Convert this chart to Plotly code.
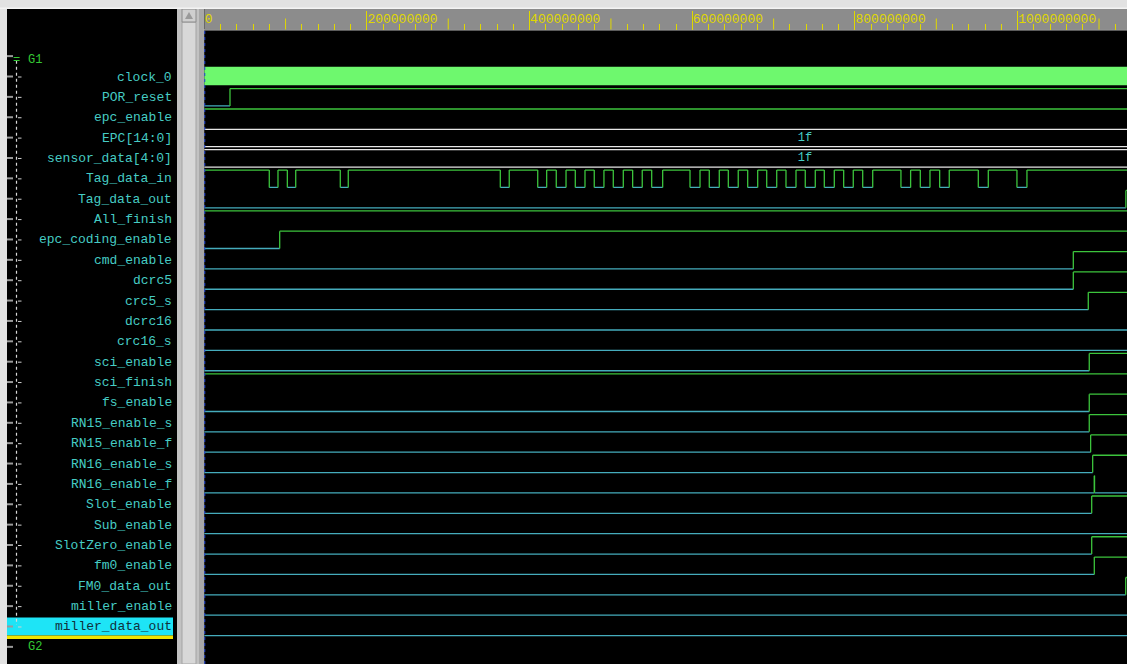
import plotly.graph_objects as go

# ---------------- data ----------------
signal_names = [
    "clock_0", "POR_reset", "epc_enable", "EPC[14:0]", "sensor_data[4:0]",
    "Tag_data_in", "Tag_data_out", "All_finish", "epc_coding_enable",
    "cmd_enable", "dcrc5", "crc5_s", "dcrc16", "crc16_s", "sci_enable",
    "sci_finish", "fs_enable", "RN15_enable_s", "RN15_enable_f",
    "RN16_enable_s", "RN16_enable_f", "Slot_enable", "Sub_enable",
    "SlotZero_enable", "fm0_enable", "FM0_data_out", "miller_enable",
    "miller_data_out",
]
signal_kind = ["clock", "bit", "bit", "bus", "bus"] + ["bit"] * 23
# initial logic level of single-bit signals (None for clock / bus rows)
initial_level = [None, 0, 1, None, None, 1, 0, 1, 0, 0, 0, 0, 0, 0, 0,
                 1, 0, 0, 0, 0, 0, 0, 0, 0, 0, 0, 0, 0]

bus_values = {"EPC[14:0]": "1f", "sensor_data[4:0]": "1f"}
bus_end = 1477e6

tag_data_in_fall = [80.0e6, 102.2e6, 167.3e6, 364.0e6, 410.0e6, 432.8e6, 456.2e6,
                    479.5e6, 502.9e6, 526.7e6, 550.1e6, 597.2e6, 620.9e6, 644.3e6,
                    668.1e6, 691.5e6, 715.2e6, 738.9e6, 762.3e6, 786.1e6, 809.5e6,
                    856.5e6, 880.3e6, 904.1e6, 951.6e6, 999.1e6]
tag_data_in_rise = [90.7e6, 112.5e6, 177.1e6, 375.0e6, 421.0e6, 444.8e6, 468.1e6,
                    491.4e6, 515.2e6, 538.5e6, 563.6e6, 609.5e6, 633.2e6, 656.5e6,
                    680.4e6, 703.8e6, 727.5e6, 751.2e6, 774.6e6, 797.9e6, 821.8e6,
                    868.4e6, 892.2e6, 915.9e6, 963.9e6, 1011.4e6]
por_reset_toggles = [31.7e6]
tag_data_out_toggles = [1133.0e6]
epc_coding_enable_toggles = [92.8e6]
cmd_enable_toggles = [1068.4e6]
dcrc5_toggles = [1068.4e6]
crc5_s_toggles = [1086.8e6]
sci_enable_toggles = [1088.0e6]
fs_enable_toggles = [1088.0e6]
rn15_enable_s_toggles = [1088.0e6]
rn15_enable_f_toggles = [1089.7e6]
rn16_enable_s_toggles = [1092.2e6]
rn16_enable_f_toggles = [1094.2e6, 1094.5e6]
slot_enable_toggles = [1091.0e6]
slotzero_enable_toggles = [1091.0e6]
fm0_enable_toggles = [1094.2e6]
fm0_data_out_toggles = [1132.8e6]

ruler_major = [0, 200000000, 400000000, 600000000, 800000000, 1000000000]
ruler_labels = ["0", "200000000", "400000000", "600000000", "800000000", "1000000000"]

signal_toggles = {
    "POR_reset": por_reset_toggles,
    "Tag_data_in": sorted(tag_data_in_fall + tag_data_in_rise),
    "Tag_data_out": tag_data_out_toggles,
    "epc_coding_enable": epc_coding_enable_toggles,
    "cmd_enable": cmd_enable_toggles,
    "dcrc5": dcrc5_toggles,
    "crc5_s": crc5_s_toggles,
    "sci_enable": sci_enable_toggles,
    "fs_enable": fs_enable_toggles,
    "RN15_enable_s": rn15_enable_s_toggles,
    "RN15_enable_f": rn15_enable_f_toggles,
    "RN16_enable_s": rn16_enable_s_toggles,
    "RN16_enable_f": rn16_enable_f_toggles,
    "Slot_enable": slot_enable_toggles,
    "SlotZero_enable": slotzero_enable_toggles,
    "fm0_enable": fm0_enable_toggles,
    "FM0_data_out": fm0_data_out_toggles,
}

# ---------------- layout constants ----------------
W, H = 1127, 664
VIEW_END = 1134.4e6
SIM_END = 1160e6
WAVE_LEFT_PX = 204.2
PLOT_TOP_PX = 30.0
RULER_TOP_PX, RULER_BOT_PX = 9.0, 29.5
ROW0_PX = 77.0
PITCH_PX = 20.37
HI_OFF, LO_OFF = 0.43, 0.42

HIGH_COLOR = "#3cc43c"
LOW_COLOR = "#45acbc"
LABEL_COLOR = "#46ccc4"
CLOCK_COLOR = "#6ef86e"
BUS_COLOR = "#e6e6e6"
RULER_COLOR = "#e0d800"
MONO = "Liberation Mono, Courier New, monospace"


def pxx(x):
    return x / W


def pxy(y):
    return 1 - y / H


def row_px(i):
    return ROW0_PX + i * PITCH_PX


fig = go.Figure()

for i, name in enumerate(signal_names):
    hi, lo = i - HI_OFF, i + LO_OFF
    kind = signal_kind[i]
    if kind == "clock":
        fig.add_trace(go.Scatter(
            x=[0, SIM_END, SIM_END, 0, 0], y=[hi - 0.07, hi - 0.07, lo - 0.02, lo - 0.02, hi - 0.07],
            mode="lines", fill="toself", fillcolor=CLOCK_COLOR,
            line=dict(width=0, color=CLOCK_COLOR), name=name, showlegend=False,
            hoverinfo="skip"))
    elif kind == "bus":
        fig.add_trace(go.Scatter(
            x=[0, bus_end, None, 0, bus_end], y=[hi, hi, None, lo, lo],
            mode="lines", line=dict(width=1.3, color=BUS_COLOR),
            name=name, showlegend=False, hoverinfo="skip"))
        fig.add_trace(go.Scatter(
            x=[bus_end / 2], y=[i], mode="text", text=[bus_values[name]],
            textfont=dict(family=MONO, size=12, color=LABEL_COLOR),
            name=name, showlegend=False, hoverinfo="skip"))
    else:
        init = initial_level[i]
        toggles = signal_toggles.get(name, [])
        times = [0.0] + list(toggles) + [SIM_END]
        hx, hy, lx, ly = [], [], [], []
        for k in range(len(times) - 1):
            level = init if k % 2 == 0 else 1 - init
            if level:
                hx += [times[k], times[k + 1], None]
                hy += [hi, hi, None]
            else:
                lx += [times[k], times[k + 1], None]
                ly += [lo, lo, None]
        for t in toggles:
            hx += [t, t, None]
            hy += [lo, hi, None]
        if lx:
            fig.add_trace(go.Scatter(x=lx, y=ly, mode="lines",
                                     line=dict(width=1.3, color=LOW_COLOR),
                                     name=name, showlegend=False, hoverinfo="skip"))
        if hx:
            fig.add_trace(go.Scatter(x=hx, y=hy, mode="lines",
                                     line=dict(width=1.3, color=HIGH_COLOR),
                                     name=name, showlegend=False, hoverinfo="skip"))

# ruler subplot (gray band with time scale)
fig.add_trace(go.Scatter(x=[0, SIM_END, SIM_END, 0, 0], y=[0, 0, 1, 1, 0],
                         mode="lines", fill="toself", fillcolor="#8c8c8c",
                         line=dict(width=0), xaxis="x2", yaxis="y2",
                         showlegend=False, hoverinfo="skip"))

shapes = []


def prect(x0, y0, x1, y1, color, line=None, layer="below"):
    shapes.append(dict(type="rect", xref="paper", yref="paper",
                       x0=pxx(x0), x1=pxx(x1), y0=pxy(y1), y1=pxy(y0),
                       fillcolor=color, line=line or dict(width=0), layer=layer))


# window chrome
prect(7, 9, 177, 664, "#000000")
prect(177, 9, 204, 664, "#c2c2c2")
prect(182, 22, 196, 664, "#d8d8d8", dict(width=1, color="#a4a4a4"))
prect(182, 9, 196, 22, "#cfcfcf", dict(width=1, color="#8a8a8a"))
shapes.append(dict(type="path", xref="paper", yref="paper",
                   path=f"M {pxx(185)},{pxy(19)} L {pxx(193)},{pxy(19)} L {pxx(189)},{pxy(12)} Z",
                   fillcolor="#9a9a9a", line=dict(width=0)))
prect(199, 9, 204, 664, "#a8a8a8")
prect(0, 7.5, W, 9, "#f4f4f4")
prect(203, 29.5, W, 30.5, "#b4b4b4")

# highlighted selection row
sel = len(signal_names) - 1
prect(7, row_px(sel) - 9.5, 173, row_px(sel) + 8.5, "#1ee4f6")
prect(7, row_px(sel) + 8.5, 173, row_px(sel) + 12, "#f0e400")

# tree gutter
for i in range(len(signal_names) + 2):
    yc = row_px(i - 1)
    prect(7, yc - 1.5, 13, yc + 0.5, "#9a9a9a")
for i in range(len(signal_names)):
    yc = row_px(i)
    shapes.append(dict(type="line", xref="paper", yref="paper",
                       x0=pxx(18), x1=pxx(21.5), y0=pxy(yc), y1=pxy(yc),
                       line=dict(width=1, color="#d0d0d0")))
shapes.append(dict(type="line", xref="paper", yref="paper",
                   x0=pxx(16.5), x1=pxx(16.5), y0=pxy(row_px(-1) + 4),
                   y1=pxy(row_px(sel) - 2),
                   line=dict(width=1.2, color="#d8d8d8", dash="dot")))

# half-way ruler ticks (taller than minor ones)
for v in range(100000000, int(VIEW_END), 200000000):
    shapes.append(dict(type="line", xref="x2", yref="paper", x0=v, x1=v,
                       y0=pxy(RULER_BOT_PX), y1=pxy(18.5),
                       line=dict(width=1, color=RULER_COLOR)))

# cursor at time zero
shapes.append(dict(type="line", xref="x", yref="paper", x0=0.4e6, x1=0.4e6,
                   y0=0, y1=pxy(PLOT_TOP_PX), layer="above",
                   line=dict(width=1.5, color="#2a4ad0", dash="dot")))

annotations = []
for i, name in enumerate(signal_names):
    annotations.append(dict(x=pxx(173.5), y=i, xref="paper", yref="y", text=name,
                            xanchor="right", yanchor="middle", showarrow=False,
                            font=dict(family=MONO, size=13,
                                      color="#10303c" if i == sel else LABEL_COLOR)))

annotations.append(dict(x=pxx(26), y=pxy(60), xref="paper", yref="paper", text="G1",
                        xanchor="left", yanchor="middle", showarrow=False,
                        font=dict(family=MONO, size=12, color="#34c834")))
annotations.append(dict(x=pxx(11), y=pxy(60), xref="paper", yref="paper", text="=",
                        xanchor="left", yanchor="middle", showarrow=False,
                        font=dict(family=MONO, size=12, color="#34c834")))
annotations.append(dict(x=pxx(26), y=pxy(646.5), xref="paper", yref="paper", text="G2",
                        xanchor="left", yanchor="middle", showarrow=False,
                        font=dict(family=MONO, size=12, color="#34c834")))

minor_vals = [v for v in range(20000000, int(VIEW_END), 20000000) if v % 100000000 != 0]

fig.update_layout(
    width=W, height=H, margin=dict(l=0, r=0, t=0, b=0, pad=0),
    paper_bgcolor="#e2e2e2", plot_bgcolor="#000000",
    showlegend=False,
    xaxis=dict(domain=[WAVE_LEFT_PX / W, 1], range=[0, VIEW_END], visible=False,
               showgrid=False, zeroline=False),
    yaxis=dict(domain=[0, pxy(PLOT_TOP_PX)],
               range=[(H - ROW0_PX) / PITCH_PX, (PLOT_TOP_PX - ROW0_PX) / PITCH_PX],
               visible=False, showgrid=False, zeroline=False),
    xaxis2=dict(domain=[WAVE_LEFT_PX / W, 1], range=[0, VIEW_END], anchor="y2",
                side="bottom", showgrid=False, zeroline=False, showline=False,
                tickmode="array", tickvals=ruler_major, ticktext=ruler_labels,
                ticks="inside", ticklen=19, tickwidth=1, tickcolor=RULER_COLOR,
                ticklabelposition="inside right", ticklabelstandoff=-2,
                tickfont=dict(family=MONO, size=13, color=RULER_COLOR),
                minor=dict(tickmode="array", tickvals=minor_vals, ticks="inside",
                           ticklen=6, tickwidth=1, tickcolor=RULER_COLOR,
                           showgrid=False)),
    yaxis2=dict(domain=[pxy(RULER_BOT_PX), pxy(RULER_TOP_PX)], range=[0, 1],
                anchor="x2", visible=False, showgrid=False, zeroline=False),
    shapes=shapes,
    annotations=annotations,
)

fig.write_html("out.html", config={"displayModeBar": False},
               post_script="document.body.style.margin='0';document.body.style.overflow='hidden';")
